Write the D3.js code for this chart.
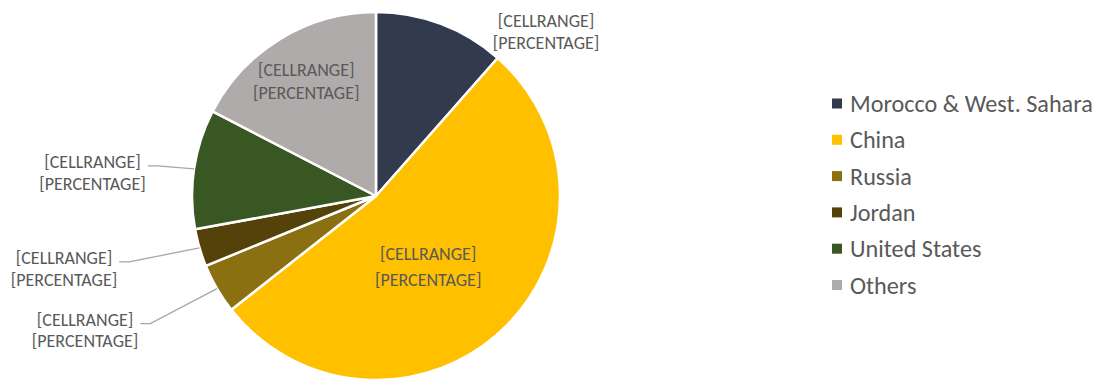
<!DOCTYPE html>
<html>
<head>
<meta charset="utf-8">
<script src="https://cdn.jsdelivr.net/npm/d3@7"></script>
<style>
  html, body { margin: 0; padding: 0; background: #ffffff; }
  svg { display: block; }
</style>
</head>
<body>
<svg id="chart" width="1100" height="380"></svg>
<script>
// Share by country (percent of total)
const categories = ["Morocco & West. Sahara", "China", "Russia", "Jordan", "United States", "Others"];
const values = [11.5, 52.9, 4.4, 3.3, 10.5, 17.4];
const colors = ["#323b4e", "#ffc000", "#8a7011", "#54420a", "#385723", "#afabab"];
const labelLines = ["[CELLRANGE]", "[PERCENTAGE]"];

// Label placement: "inside" labels sit on the slice, "outside" ones get a leader line
const labelLayout = {
  "Morocco & West. Sahara": { mode: "outside", dx: 105, dy: 8, leader: false, gap: 22 },
  "China":                  { mode: "inside", r: 0.46, dx: -6, dy: 9, gap: 26 },
  "Russia":                 { mode: "outside", dx: -132, dy: 41.5, leader: true, gap: 21 },
  "Jordan":                 { mode: "outside", dx: -135.5, dy: 21, leader: true, gap: 22 },
  "United States":          { mode: "outside", dx: -101.5, dy: 4, leader: true, gap: 22 },
  "Others":                 { mode: "inside", r: 0.73, dx: 0, dy: 0, gap: 22.5 }
};

const svg = d3.select("#chart");
const cx = 376, cy = 196, radius = 184;
const fontFamily = "Calibri, Carlito, Lato, 'Open Sans', sans-serif";
const textColor = "#595959";

const data = categories.map((c, i) => ({ name: c, value: values[i], color: colors[i] }));

const pie = d3.pie().value(d => d.value).sort(null);
const arcs = pie(data);
const arc = d3.arc().innerRadius(0).outerRadius(radius);

const g = svg.append("g").attr("transform", `translate(${cx},${cy})`);

g.selectAll("path.slice")
  .data(arcs)
  .join("path")
  .attr("class", "slice")
  .attr("d", arc)
  .attr("fill", d => d.data.color)
  .attr("stroke", "#ffffff")
  .attr("stroke-width", 2.5)
  .attr("stroke-linejoin", "round");

// Data labels
const labels = g.append("g").attr("font-family", fontFamily).attr("font-size", 18).attr("fill", textColor);

arcs.forEach(a => {
  const lay = labelLayout[a.data.name];
  const mid = (a.startAngle + a.endAngle) / 2;
  const ex = radius * Math.sin(mid), ey = -radius * Math.cos(mid);
  let lx, ly, gap = lay.gap || 23;
  if (lay.mode === "inside") {
    const c = d3.arc().innerRadius(radius * lay.r).outerRadius(radius * lay.r).centroid(a);
    lx = c[0] + lay.dx; ly = c[1] + lay.dy;
  } else {
    lx = ex + lay.dx; ly = ey + lay.dy;
  }
  const t = labels.append("text").attr("text-anchor", "middle");
  labelLines.forEach((s, i) => {
    t.append("tspan")
      .attr("x", lx)
      .attr("y", ly + (i - 0.5) * gap)
      .attr("dominant-baseline", "central")
      .text(s);
  });
  if (lay.leader) {
    const w = t.node().getBBox().width;
    const x0 = lx + w / 2 + 2;
    const yl = ly - gap / 2 + 4;
    g.append("polyline")
      .attr("points", [[x0, yl], [x0 + 10, yl], [ex, ey]].map(p => p.join(",")).join(" "))
      .attr("fill", "none")
      .attr("stroke", "#a6a6a6")
      .attr("stroke-width", 1.3);
  }
});

// Legend
const legend = svg.append("g").attr("transform", "translate(832,103.5)");
const rowStep = 36.3;
const rows = legend.selectAll("g.row")
  .data(data)
  .join("g")
  .attr("class", "row")
  .attr("transform", (d, i) => `translate(0,${i * rowStep})`);
rows.append("rect")
  .attr("x", 0).attr("y", -5)
  .attr("width", 10).attr("height", 10)
  .attr("fill", d => d.color);
rows.append("text")
  .attr("x", 18).attr("y", 0)
  .attr("dominant-baseline", "central")
  .attr("font-family", fontFamily)
  .attr("font-size", 24.2)
  .attr("fill", textColor)
  .text(d => d.name);
</script>
</body>
</html>
